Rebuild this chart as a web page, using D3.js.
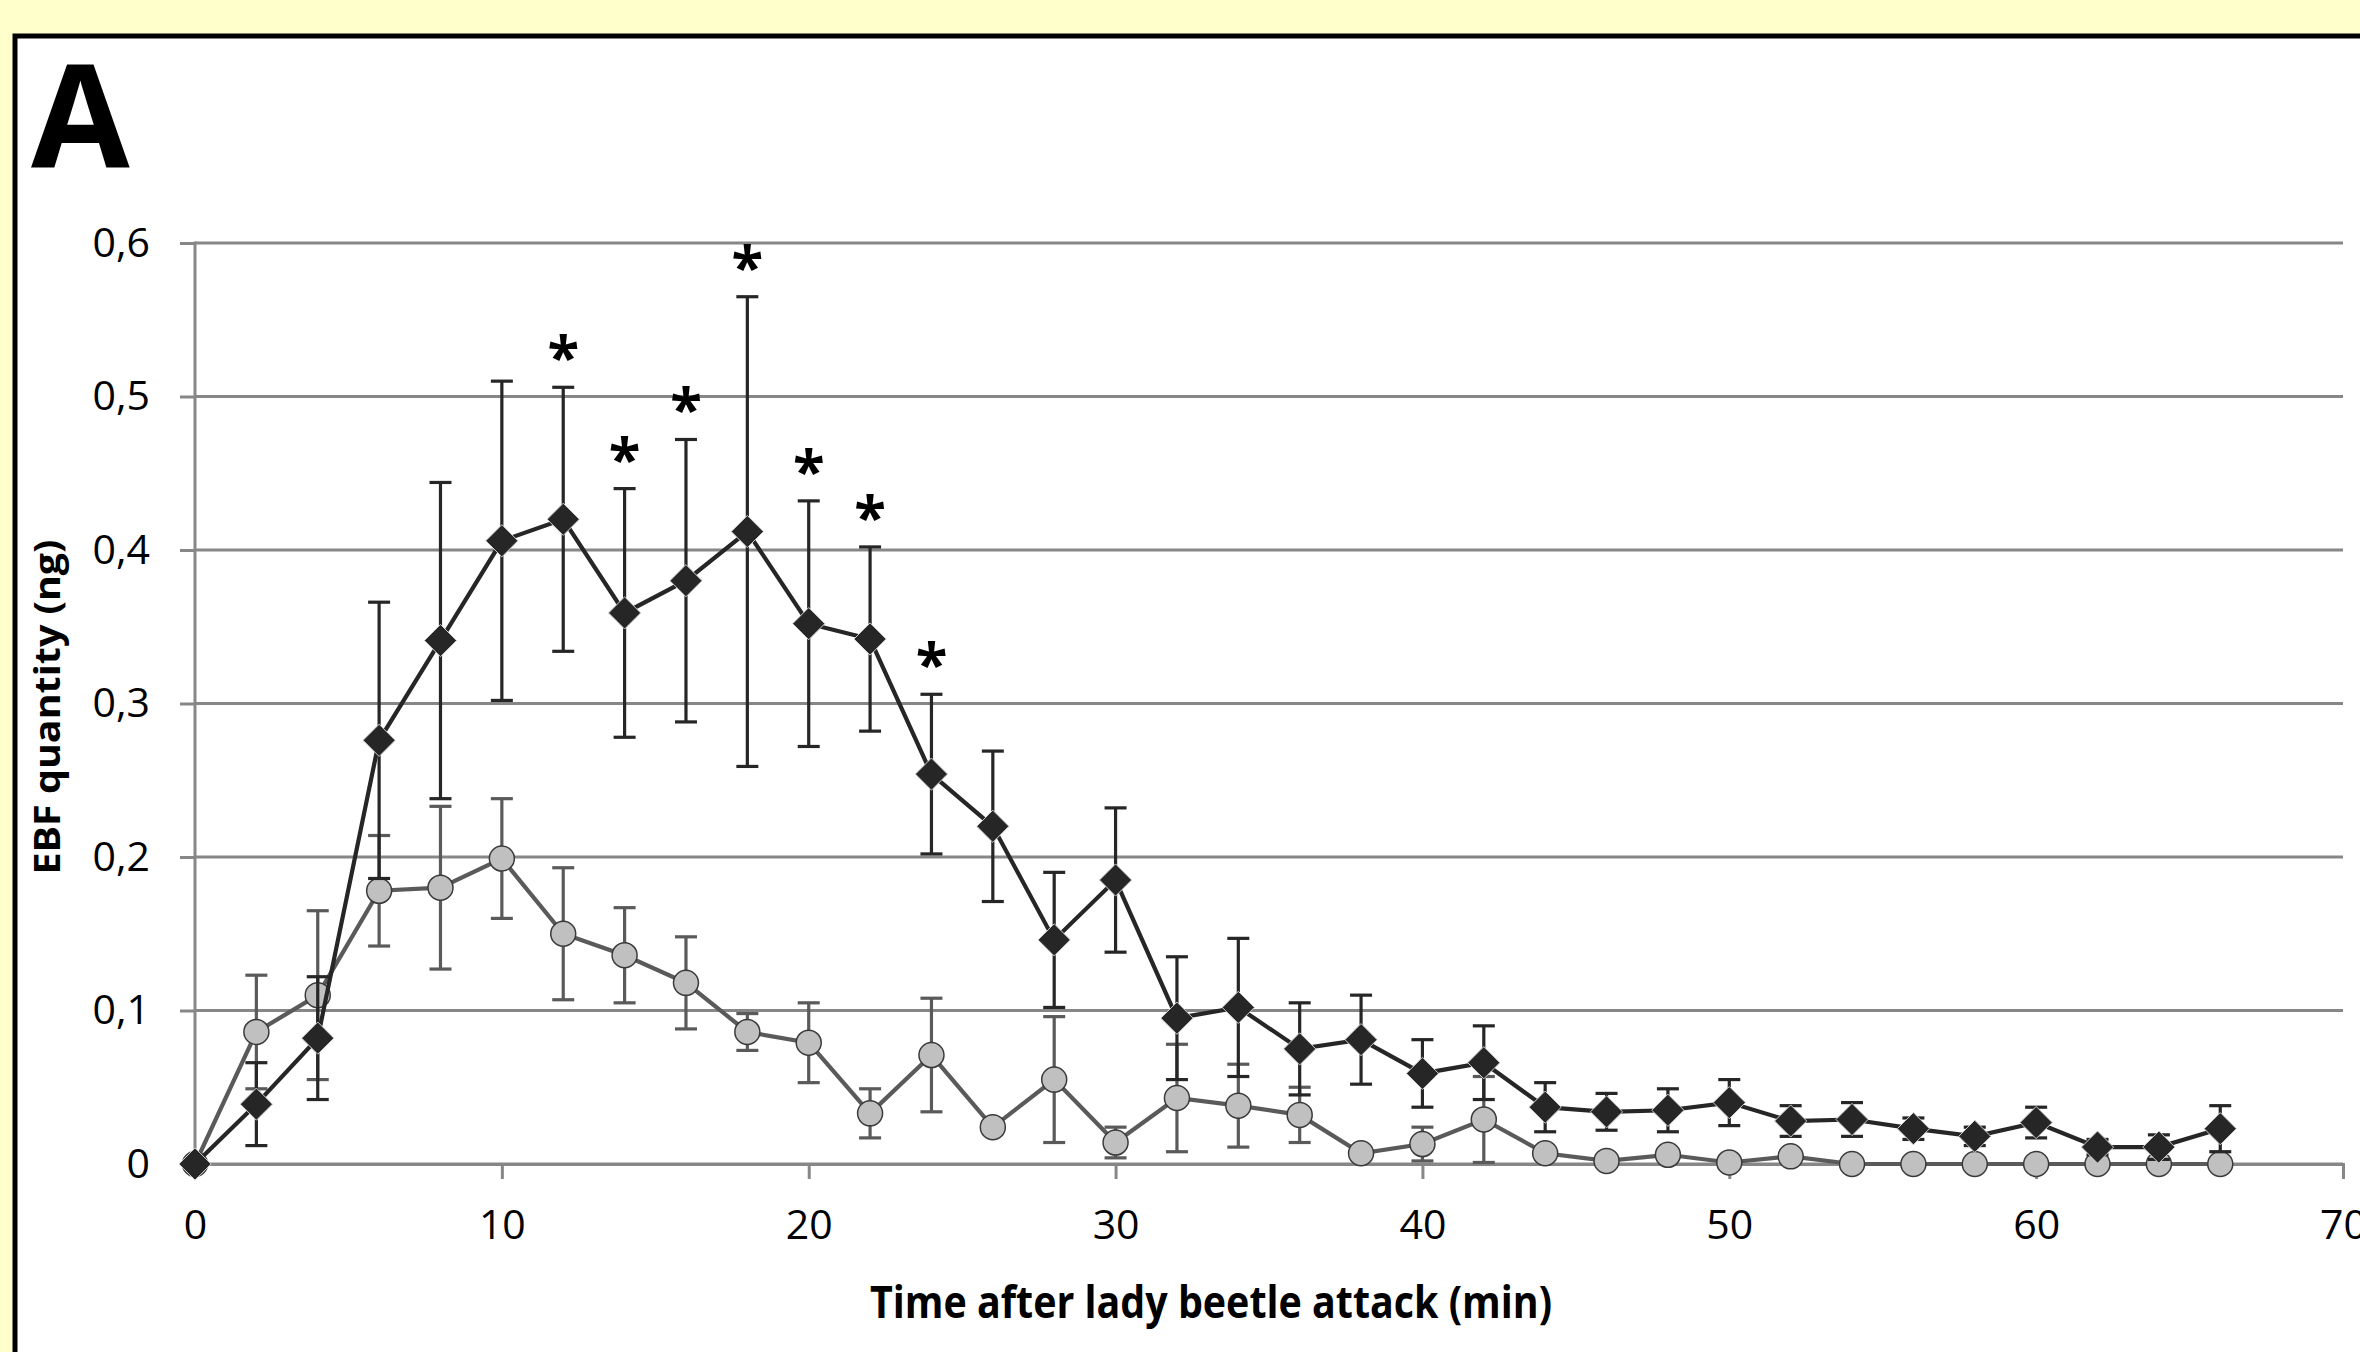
<!DOCTYPE html>
<html>
<head>
<meta charset="utf-8">
<script src="https://cdn.jsdelivr.net/npm/d3@7"></script>
<style>
  body { margin: 0; background: #ffffcc; }
  text { font-family: "Open Sans", "Liberation Sans", sans-serif; }
</style>
</head>
<body>
<div id="chart"></div>
<script>
// time points (min)
var times = [0,2,4,6,8,10,12,14,16,18,20,22,24,26,28,30,32,34,36,38,40,42,44,46,48,50,52,54,56,58,60,62,64,66];

// black diamonds: mean and error
var blackMean = [0,0.039,0.082,0.276,0.341,0.406,0.420,0.359,0.380,0.412,0.352,0.342,0.254,0.220,0.146,0.185,0.095,0.102,0.075,0.081,0.059,0.066,0.037,0.034,0.035,0.040,0.028,0.029,0.023,0.018,0.027,0.011,0.011,0.023];
var blackErr  = [0,0.027,0.040,0.090,0.103,0.104,0.086,0.081,0.092,0.153,0.080,0.060,0.052,0.049,0.044,0.047,0.040,0.045,0.030,0.029,0.022,0.024,0.016,0.012,0.014,0.015,0.010,0.011,0.007,0.006,0.010,0.005,0.008,0.015];

// gray circles: mean and error
var grayMean = [0,0.086,0.110,0.178,0.180,0.199,0.150,0.136,0.118,0.086,0.079,0.033,0.071,0.024,0.055,0.014,0.043,0.038,0.032,0.007,0.013,0.029,0.007,0.002,0.006,0.001,0.005,0,0,0,0,0,0,0];
var grayErr  = [0,0.037,0.055,0.036,0.053,0.039,0.043,0.031,0.030,0.012,0.026,0.016,0.037,0,0.041,0.010,0.035,0.027,0.018,0,0.011,0.028,0,0,0,0,0,0,0,0,0,0,0,0];

// significant time points (asterisks)
var sigTimes = [12,14,16,18,20,22,24];

var xTicks = [0,10,20,30,40,50,60,70];
var yTicks = [0,0.1,0.2,0.3,0.4,0.5,0.6];
var yTickLabels = ["0","0,1","0,2","0,3","0,4","0,5","0,6"];

var W = 2360, H = 1352;
var plotLeft = 195, plotRight = 2343, plotTop = 243, plotBottom = 1164;

var svg = d3.select("#chart").append("svg")
    .attr("width", W)
    .attr("height", H);

// yellow page + framed white panel
svg.append("rect").attr("width", W).attr("height", H).attr("fill", "#ffffcc");
svg.append("rect")
    .attr("x", 15).attr("y", 36)
    .attr("width", 2500).attr("height", 1500)
    .attr("fill", "#ffffff")
    .attr("stroke", "#000").attr("stroke-width", 5);

svg.append("text")
    .attr("x", 31).attr("y", 167)
    .attr("font-size", 143).attr("font-weight", 700)
    .text("A");

var x = d3.scaleLinear().domain([0, 70]).range([plotLeft, plotRight]);
var y = d3.scaleLinear().domain([0, 0.6]).range([plotBottom, plotTop]);

var gridColor = "#878787";

// gridlines
svg.append("g").selectAll("line")
    .data(yTicks)
    .enter().append("line")
    .attr("x1", plotLeft).attr("x2", plotRight)
    .attr("y1", d => y(d)).attr("y2", d => y(d))
    .attr("stroke", gridColor).attr("stroke-width", 3);

// y axis
var yAxis = svg.append("g")
    .attr("transform", "translate(" + plotLeft + ",0)")
    .call(d3.axisLeft(y).tickValues(yTicks)
        .tickFormat((d, i) => yTickLabels[i])
        .tickSize(15).tickPadding(30));
yAxis.select(".domain").remove();
yAxis.selectAll("line").attr("stroke", gridColor).attr("stroke-width", 3);
yAxis.selectAll("text").attr("font-size", 41).attr("font-family", "Open Sans").attr("fill", "#000");
svg.append("line")
    .attr("x1", plotLeft).attr("x2", plotLeft)
    .attr("y1", plotTop - 1.5).attr("y2", plotBottom)
    .attr("stroke", gridColor).attr("stroke-width", 3);

// x axis
var xAxis = svg.append("g")
    .attr("transform", "translate(0," + plotBottom + ")")
    .call(d3.axisBottom(x).tickValues(xTicks).tickSize(15).tickPadding(31));
xAxis.select(".domain").attr("stroke", gridColor).attr("stroke-width", 3);
xAxis.selectAll("line").attr("stroke", gridColor).attr("stroke-width", 3);
xAxis.selectAll("text").attr("font-size", 41).attr("font-family", "Open Sans").attr("fill", "#000");

// axis titles
svg.append("text")
    .attr("x", 1211).attr("y", 1318)
    .attr("text-anchor", "middle")
    .attr("font-size", 44).attr("font-weight", 700)
    .attr("textLength", 682).attr("lengthAdjust", "spacingAndGlyphs")
    .text("Time after lady beetle attack (min)");

svg.append("text")
    .attr("transform", "translate(60,707) rotate(-90)")
    .attr("text-anchor", "middle")
    .attr("font-size", 36).attr("font-weight", 700)
    .attr("textLength", 335).attr("lengthAdjust", "spacingAndGlyphs")
    .text("EBF quantity (ng)");

function errorBars(g, means, errs, color) {
    var data = times.map((t, i) => ({t: t, m: means[i], e: errs[i]})).filter(d => d.e > 0);
    var eb = g.append("g").selectAll("g").data(data).enter().append("g")
        .attr("stroke", color).attr("stroke-width", 3.2);
    eb.append("line")
        .attr("x1", d => x(d.t)).attr("x2", d => x(d.t))
        .attr("y1", d => y(d.m + d.e)).attr("y2", d => y(Math.max(0, d.m - d.e)));
    eb.append("line")
        .attr("x1", d => x(d.t) - 11).attr("x2", d => x(d.t) + 11)
        .attr("y1", d => y(d.m + d.e)).attr("y2", d => y(d.m + d.e));
    eb.append("line")
        .attr("x1", d => x(d.t) - 11).attr("x2", d => x(d.t) + 11)
        .attr("y1", d => y(Math.max(0, d.m - d.e))).attr("y2", d => y(Math.max(0, d.m - d.e)));
}

var line = d3.line().x(d => x(d[0])).y(d => y(d[1]));

// gray series (circles)
var gGray = svg.append("g");
errorBars(gGray, grayMean, grayErr, "#5a5a5a");
gGray.append("path")
    .datum(times.map((t, i) => [t, grayMean[i]]))
    .attr("d", line)
    .attr("fill", "none").attr("stroke", "#5a5a5a").attr("stroke-width", 4.2);
gGray.selectAll("circle")
    .data(times.map((t, i) => [t, grayMean[i]]))
    .enter().append("circle")
    .attr("cx", d => x(d[0])).attr("cy", d => y(d[1]))
    .attr("r", 12.5)
    .attr("fill", "#c0c0c0").attr("stroke", "#3a3a3a").attr("stroke-width", 1.5);

// black series (diamonds)
var gBlack = svg.append("g");
errorBars(gBlack, blackMean, blackErr, "#262626");
gBlack.append("path")
    .datum(times.map((t, i) => [t, blackMean[i]]))
    .attr("d", line)
    .attr("fill", "none").attr("stroke", "#262626").attr("stroke-width", 4.2);
var diamond = d3.symbol().type(d3.symbolDiamond2).size(660);
gBlack.selectAll(".dia")
    .data(times.map((t, i) => [t, blackMean[i]]))
    .enter().append("path")
    .attr("class", "dia")
    .attr("transform", d => "translate(" + x(d[0]) + "," + y(d[1]) + ")")
    .attr("d", diamond)
    .attr("fill", "#262626").attr("stroke", "#d0d0d0").attr("stroke-width", 1);

// significance asterisks
svg.append("g").selectAll("text")
    .data(sigTimes)
    .enter().append("text")
    .attr("x", d => x(d))
    .attr("y", d => { var i = times.indexOf(d); return y(blackMean[i] + blackErr[i]) - 9; })
    .attr("text-anchor", "middle")
    .attr("font-size", 58).attr("font-weight", 700)
    .text("*");
</script>
</body>
</html>
